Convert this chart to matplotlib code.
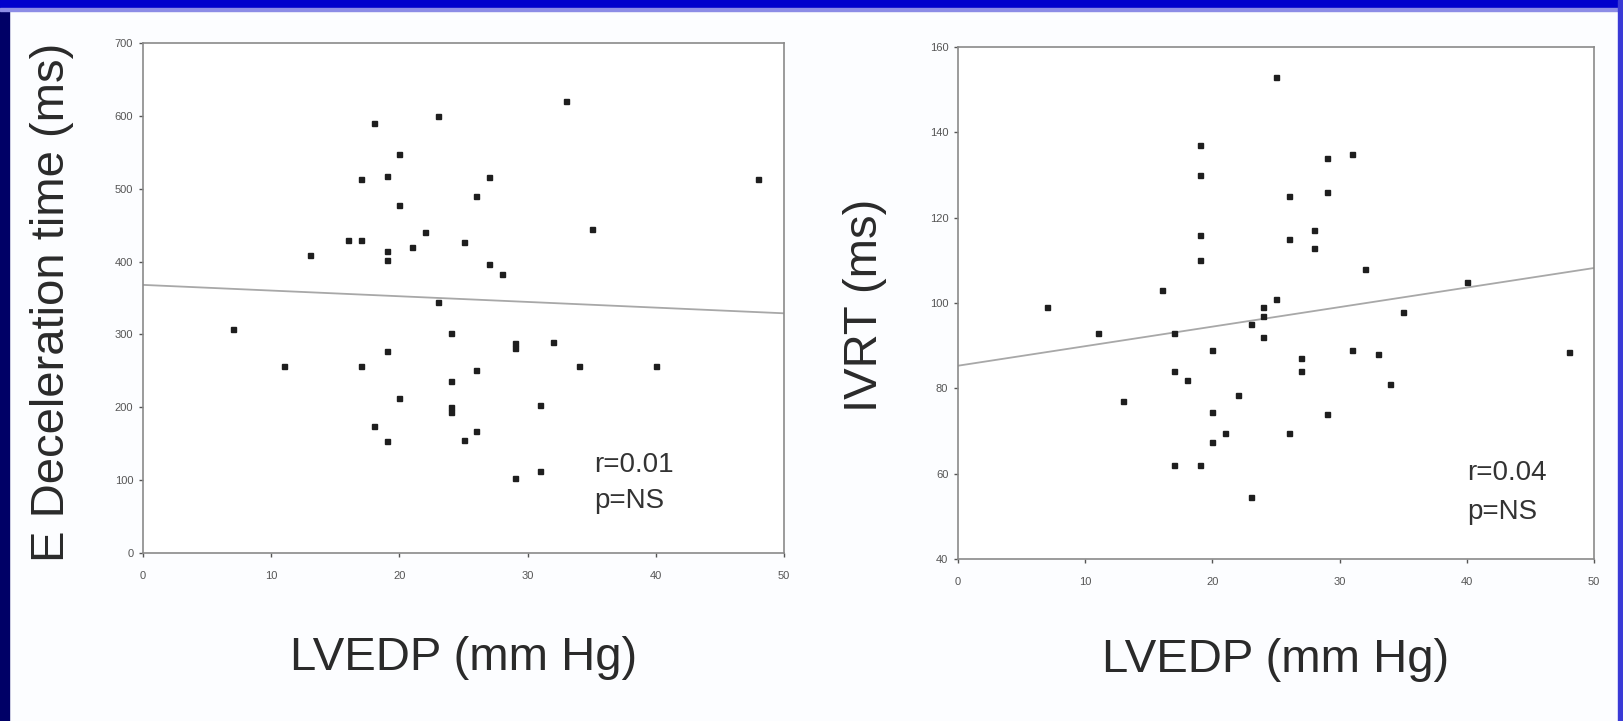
import matplotlib.pyplot as plt
from matplotlib.patches import Rectangle

plt.rcParams['font.family'] = ['Liberation Sans', 'DejaVu Sans']

# left panel: E deceleration time vs LVEDP
dt_lvedp = [33, 23, 18, 20, 17, 19, 27, 48, 26, 20, 35, 22, 16, 17, 25, 21, 13, 19, 19, 27,
            28, 23, 7, 24, 29, 29, 32, 19, 11, 17, 34, 40, 26, 24, 20, 24, 24, 31, 18, 19,
            25, 26, 29, 31]
dt_ms = [620, 600, 590, 548, 514, 517, 516, 514, 490, 478, 445, 440, 430, 429, 427, 420, 409, 414, 402, 397,
         383, 345, 307, 302, 288, 281, 289, 277, 256, 256, 257, 256, 251, 236, 213, 201, 194, 203, 174, 154,
         155, 168, 103, 112]
dt_fit_x = [0, 50]
dt_fit_y = [368, 329]

# right panel: IVRT vs LVEDP
ivrt_lvedp = [25, 19, 19, 31, 29, 29, 26, 19, 26, 28, 28, 19, 32, 40, 16, 25, 7, 35, 24, 24,
              23, 24, 11, 17, 20, 31, 33, 27, 48, 27, 17, 18, 34, 22, 13, 20, 29, 21, 20, 26,
              17, 19, 23]
ivrt_ms = [153, 137, 130, 135, 134, 126, 125, 116, 115, 117, 113, 110, 108, 105, 103, 101, 99, 98, 99, 97,
           95, 92, 93, 93, 89, 89, 88, 87, 88.5, 84, 84, 82, 81, 78.5, 77, 74.5, 74, 69.5, 67.5, 69.5,
           62, 62, 54.5]
ivrt_fit_x = [0, 50]
ivrt_fit_y = [85.3, 108.2]

x_ticks = [0, 10, 20, 30, 40, 50]
dt_ticks = [0, 100, 200, 300, 400, 500, 600, 700]
ivrt_ticks = [40, 60, 80, 100, 120, 140, 160]

W, H = 1623, 721
fig = plt.figure(figsize=(W / 100, H / 100), dpi=100, facecolor='#fcfdff')

# slide frame
fig.patches.append(Rectangle((0, 0), 9 / W, 1, transform=fig.transFigure, color='#000066', zorder=0))
fig.patches.append(Rectangle((0, 1 - 8 / H), 1, 8 / H, transform=fig.transFigure, color='#0000cc', zorder=0))
fig.patches.append(Rectangle((0, 1 - 11 / H), 1, 3 / H, transform=fig.transFigure, color='#8c8ce6', zorder=0))
fig.patches.append(Rectangle((1 - 5 / W, 0), 5 / W, 1, transform=fig.transFigure, color='#3a3ad6', zorder=0))


def panel(rect, xs, ys, fx, fy, yticks, ylabel, r_text, xy_r, xy_p, ylab_pos, xlab_y):
    ax = fig.add_axes(rect)
    ax.set_facecolor('white')
    ax.plot(fx, fy, color='#a8a8a8', lw=1.3, zorder=2)
    ax.plot(xs, ys, 's', color='#1e1e1e', ms=3.6, zorder=3)
    ax.set_xlim(0, 50)
    ax.set_ylim(yticks[0], yticks[-1])
    ax.set_xticks(x_ticks)
    ax.set_yticks(yticks)
    for s in ax.spines.values():
        s.set_color('#8a8a8a')
        s.set_linewidth(1.2)
    ax.tick_params(axis='both', colors='#555555', labelsize=8, length=3, width=1)
    ax.tick_params(axis='x', pad=10)
    ax.tick_params(axis='y', pad=4)
    ax.text(xy_r[0], xy_r[1], r_text, fontsize=20, color='#333333', ha='left', va='center')
    ax.text(xy_p[0], xy_p[1], 'p=NS', fontsize=20, color='#333333', ha='left', va='center')
    ax.text(ylab_pos[0], ylab_pos[1], ylabel, transform=ax.transAxes, rotation=90,
            fontsize=34, color='#2a2a2a', ha='center', va='center')
    ax.text(0.5, xlab_y, 'LVEDP (mm Hg)', transform=ax.transAxes,
            fontsize=34, color='#2a2a2a', ha='center', va='center')
    return ax


panel([143 / W, 1 - 553 / H, 641 / W, 510 / H], dt_lvedp, dt_ms, dt_fit_x, dt_fit_y,
      dt_ticks, 'E Deceleration time (ms)', 'r=0.01', (35.2, 121), (35.2, 71),
      (-0.142, 0.492), -0.206)
panel([958 / W, 1 - 559 / H, 636 / W, 512 / H], ivrt_lvedp, ivrt_ms, ivrt_fit_x, ivrt_fit_y,
      ivrt_ticks, 'IVRT (ms)', 'r=0.04', (40.0, 60.2), (40.0, 51),
      (-0.146, 0.496), -0.197)

fig.savefig('out.png', dpi=100, facecolor=fig.get_facecolor())
